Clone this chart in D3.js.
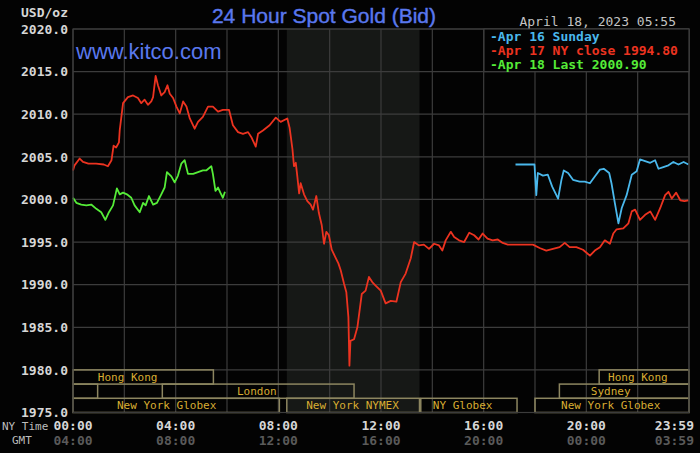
<!DOCTYPE html>
<html>
<head>
<meta charset="UTF-8">
<title>24 Hour Spot Gold (Bid)</title>
<script src="https://d3js.org/d3.v7.min.js"></script>
<style>
  html, body { margin: 0; padding: 0; background: #000; }
  svg { display: block; }
  .mono { font-family: "DejaVu Sans Mono", "Liberation Mono", monospace; }
</style>
</head>
<body>
<svg id="chart" width="700" height="453"></svg>
<script>
  // ---- data (hours in NY time, price in USD/oz) ----
  var sundayHours = [17.24, 17.98, 18.05, 18.11, 18.31, 18.5, 18.67, 18.9, 19.03, 19.12, 19.29, 19.48, 19.74, 19.94, 20.14, 20.33, 20.53, 20.68, 20.89, 20.98, 21.11, 21.25, 21.38, 21.57, 21.77, 21.96, 22.09, 22.29, 22.49, 22.68, 22.81, 23.0, 23.2, 23.39, 23.59, 23.79, 23.98];
  var sundayValues = [2004.1, 2004.1, 2000.5, 2003.1, 2002.8, 2002.9, 2001.5, 2000.1, 2002.3, 2003.4, 2003.1, 2002.3, 2002.1, 2002.1, 2001.9, 2002.7, 2003.5, 2003.6, 2003.1, 2001.9, 1999.6, 1997.2, 1999.0, 2000.5, 2002.9, 2003.3, 2004.7, 2004.5, 2004.3, 2004.6, 2003.6, 2003.8, 2004.0, 2004.4, 2004.1, 2004.4, 2004.1];

  var closeHours = [0, 0.06, 0.26, 0.39, 0.6, 0.9, 1.2, 1.36, 1.5, 1.58, 1.68, 1.79, 1.82, 1.95, 2.14, 2.34, 2.53, 2.66, 2.79, 2.92, 3.05, 3.12, 3.22, 3.31, 3.44, 3.57, 3.68, 3.77, 3.9, 4.03, 4.16, 4.29, 4.42, 4.55, 4.74, 4.87, 5.06, 5.26, 5.45, 5.65, 5.84, 6.08, 6.23, 6.43, 6.62, 6.82, 6.95, 7.12, 7.21, 7.4, 7.66, 7.9, 8.09, 8.35, 8.44, 8.55, 8.61, 8.68, 8.74, 8.81, 8.87, 9.0, 9.13, 9.26, 9.35, 9.48, 9.58, 9.69, 9.78, 9.87, 9.97, 10.08, 10.21, 10.34, 10.43, 10.56, 10.65, 10.73, 10.77, 10.81, 10.95, 11.08, 11.25, 11.4, 11.53, 11.66, 11.79, 11.99, 12.18, 12.38, 12.6, 12.77, 12.96, 13.16, 13.29, 13.48, 13.67, 13.87, 14.07, 14.26, 14.39, 14.52, 14.72, 14.85, 15.04, 15.24, 15.44, 15.63, 15.8, 15.96, 16.15, 16.35, 16.55, 16.74, 16.94, 17.92, 18.18, 18.44, 18.7, 18.96, 19.16, 19.35, 19.61, 19.87, 20.14, 20.33, 20.53, 20.72, 20.92, 21.05, 21.18, 21.44, 21.64, 21.77, 21.9, 22.09, 22.29, 22.49, 22.68, 22.88, 23.07, 23.2, 23.33, 23.5, 23.66, 23.82, 23.98];
  var closeValues = [2003.4, 2004.0, 2004.8, 2004.4, 2004.2, 2004.2, 2004.1, 2003.9, 2004.6, 2006.3, 2006.1, 2006.7, 2008.1, 2011.3, 2012.0, 2012.2, 2011.9, 2011.3, 2011.7, 2011.1, 2011.5, 2012.0, 2014.5, 2013.4, 2012.2, 2012.6, 2013.4, 2012.4, 2011.9, 2010.9, 2010.1, 2011.5, 2010.9, 2009.5, 2008.3, 2009.1, 2009.7, 2010.9, 2010.9, 2010.3, 2010.5, 2010.5, 2008.7, 2007.9, 2007.7, 2007.9, 2007.3, 2006.2, 2007.7, 2008.1, 2008.7, 2009.6, 2009.1, 2009.5, 2008.4, 2005.9, 2003.9, 2004.3, 2002.7, 2000.7, 2001.9, 2000.6, 1999.8, 1999.4, 1998.8, 2000.4, 1998.4, 1997.0, 1994.8, 1996.2, 1995.8, 1994.1, 1993.3, 1992.5, 1991.7, 1990.1, 1989.1, 1986.2, 1980.5, 1983.4, 1983.6, 1985.0, 1988.9, 1989.3, 1990.9, 1990.3, 1989.9, 1989.3, 1987.8, 1988.1, 1988.0, 1990.3, 1991.3, 1993.1, 1995.0, 1994.6, 1994.7, 1994.2, 1994.8, 1994.6, 1994.0, 1995.2, 1996.2, 1995.6, 1995.2, 1995.0, 1996.1, 1995.8, 1995.3, 1996.0, 1995.4, 1995.2, 1995.3, 1994.9, 1994.7, 1994.7, 1994.3, 1994.0, 1994.2, 1994.4, 1994.9, 1994.4, 1994.4, 1994.1, 1993.4, 1994.0, 1994.4, 1995.2, 1994.8, 1996.0, 1996.5, 1996.6, 1997.2, 1998.6, 1998.8, 1997.6, 1998.2, 1998.6, 1997.6, 1999.0, 2000.5, 2000.9, 2000.1, 2000.8, 1999.9, 1999.8, 1999.9];

  var lastHours = [0, 0.13, 0.32, 0.52, 0.71, 0.91, 1.1, 1.26, 1.4, 1.56, 1.71, 1.82, 1.95, 2.1, 2.27, 2.4, 2.6, 2.73, 2.83, 2.96, 3.12, 3.27, 3.44, 3.57, 3.66, 3.83, 3.96, 4.09, 4.22, 4.35, 4.48, 4.68, 4.87, 5.06, 5.19, 5.39, 5.45, 5.55, 5.65, 5.74, 5.84, 5.92];
  var lastValues = [2000.2, 1999.6, 1999.4, 1999.3, 1999.4, 1998.9, 1998.5, 1997.6, 1998.5, 1999.3, 2001.3, 2000.6, 2000.8, 2000.6, 2000.2, 1999.3, 1998.5, 1999.6, 1999.3, 2000.4, 1999.4, 1999.6, 2000.6, 2001.4, 2003.2, 2002.7, 2002.0, 2002.8, 2004.2, 2004.6, 2003.0, 2003.0, 2003.2, 2003.4, 2003.4, 2003.9, 2003.0, 2001.0, 2001.4, 2000.8, 2000.2, 2000.9];

  var seriesNames = ["Apr 16 Sunday", "Apr 17 NY close 1994.80", "Apr 18 Last 2000.90"];
  var seriesColors = ["#4ab8ec", "#ec3320", "#55ec38"];

  var priceTicks = [1975, 1980, 1985, 1990, 1995, 2000, 2005, 2010, 2015, 2020];
  var gridHours = [0, 2, 4, 6, 8, 10, 12, 14, 16, 18, 20, 22, 24];
  var nyTimeLabels = ["00:00", "04:00", "08:00", "12:00", "16:00", "20:00"];
  var nyTimeHours = [0, 4, 8, 12, 16, 20];
  var gmtLabels = ["04:00", "08:00", "12:00", "16:00", "20:00", "00:00"];

  // trading sessions: row, start hour, end hour, label, label centre hour
  var sessionNames = ["Hong Kong", "Hong Kong", "", "London", "Sydney", "New York Globex", "New York NYMEX", "NY Globex", "New York Globex"];
  var sessionRows = [0, 0, 1, 1, 1, 2, 2, 2, 2];
  var sessionStart = [0, 20.5, 0, 3.48, 18.95, 0, 8.33, 13.55, 18.0];
  var sessionEnd = [5.47, 24, 0.96, 10.95, 24, 8.04, 13.5, 17.3, 24];
  var sessionLabelAt = [2.13, 22.01, 0.5, 7.16, 20.95, 3.65, 10.89, 15.18, 20.95];

  var shadeStart = 8.33, shadeEnd = 13.5;

  // ---- layout ----
  var svg = d3.select("#chart");
  var plotLeft = 73, plotRight = 689, plotTop = 29, plotBottom = 412.5;

  var x = d3.scaleLinear().domain([0, 24]).range([plotLeft, plotRight]);
  var y = d3.scaleLinear().domain([1975, 2020]).range([plotBottom, plotTop]);

  svg.append("rect").attr("width", 700).attr("height", 453).attr("fill", "#030303");

  // NYMEX shading
  svg.append("rect")
    .attr("x", x(shadeStart)).attr("y", plotTop)
    .attr("width", x(shadeEnd) - x(shadeStart)).attr("height", plotBottom - plotTop)
    .attr("fill", "#161816");

  // grid
  svg.append("g").selectAll("line").data(priceTicks).enter().append("line")
    .attr("x1", plotLeft).attr("x2", plotRight)
    .attr("y1", d => y(d)).attr("y2", d => y(d))
    .attr("stroke", "#3c3c3c").attr("stroke-width", 1.2);

  svg.append("g").selectAll("line").data(gridHours).enter().append("line")
    .attr("x1", d => x(d)).attr("x2", d => x(d))
    .attr("y1", plotTop).attr("y2", plotBottom)
    .attr("stroke", "#3c3c3c").attr("stroke-width", 1.2);

  // session boxes
  var rowH = (y(1975) - y(1980)) / 3;
  var sess = svg.append("g");
  sessionNames.forEach((name, i) => {
    var y0 = y(1980) + sessionRows[i] * rowH;
    sess.append("rect")
      .attr("x", x(sessionStart[i])).attr("y", y0)
      .attr("width", x(sessionEnd[i]) - x(sessionStart[i])).attr("height", rowH)
      .attr("fill", "none").attr("stroke", "#8d8660").attr("stroke-width", 1.5);
    if (name) {
      sess.append("text")
        .attr("class", "mono")
        .attr("x", x(sessionLabelAt[i])).attr("y", y0 + rowH - 3.5)
        .attr("text-anchor", "middle")
        .attr("font-size", "11px")
        .attr("fill", "#d8ad32")
        .text(name);
    }
  });

  // price lines
  var line = d3.line().x(d => x(d[0])).y(d => y(d[1]));
  var seriesData = [
    d3.zip(sundayHours, sundayValues),
    d3.zip(closeHours, closeValues),
    d3.zip(lastHours, lastValues)
  ];
  seriesData.forEach((pts, i) => {
    svg.append("path")
      .datum(pts)
      .attr("d", line)
      .attr("fill", "none")
      .attr("stroke", seriesColors[i])
      .attr("stroke-width", 1.8)
      .attr("stroke-linejoin", "round");
  });

  // frame
  svg.append("rect")
    .attr("x", plotLeft).attr("y", plotTop)
    .attr("width", plotRight - plotLeft).attr("height", plotBottom - plotTop)
    .attr("fill", "none").attr("stroke", "#3c3c3c").attr("stroke-width", 1.2);

  // y axis labels
  var yAxis = d3.axisLeft(y).tickValues(priceTicks).tickFormat(d3.format(".1f")).tickSize(0).tickPadding(5);
  var ya = svg.append("g").attr("transform", "translate(" + plotLeft + ",0)").call(yAxis);
  ya.select(".domain").remove();
  ya.selectAll("text")
    .attr("class", "mono")
    .attr("font-size", "13px")
    .attr("font-weight", "bold")
    .attr("fill", "#d6d6d6");

  svg.append("text").attr("class", "mono")
    .attr("x", 68).attr("y", 17).attr("text-anchor", "end")
    .attr("font-size", "13px").attr("font-weight", "bold").attr("fill", "#d6d6d6")
    .text("USD/oz");

  // x axis labels (NY time and GMT)
  var xl = svg.append("g");
  nyTimeLabels.forEach((t, i) => {
    xl.append("text").attr("class", "mono")
      .attr("x", x(nyTimeHours[i])).attr("y", 430).attr("text-anchor", "middle")
      .attr("font-size", "13px").attr("font-weight", "bold").attr("fill", "#d6d6d6")
      .text(t);
    xl.append("text").attr("class", "mono")
      .attr("x", x(nyTimeHours[i])).attr("y", 445).attr("text-anchor", "middle")
      .attr("font-size", "13px").attr("font-weight", "bold").attr("fill", "#5a5a5a")
      .text(gmtLabels[i]);
  });
  xl.append("text").attr("class", "mono")
    .attr("x", 694).attr("y", 430).attr("text-anchor", "end")
    .attr("font-size", "13px").attr("font-weight", "bold").attr("fill", "#d6d6d6")
    .text("23:59");
  xl.append("text").attr("class", "mono")
    .attr("x", 694).attr("y", 445).attr("text-anchor", "end")
    .attr("font-size", "13px").attr("font-weight", "bold").attr("fill", "#5a5a5a")
    .text("03:59");
  xl.append("text").attr("class", "mono")
    .attr("x", 2).attr("y", 430)
    .attr("font-size", "11px").attr("fill", "#bdbdbd")
    .text("NY Time");
  xl.append("text").attr("class", "mono")
    .attr("x", 12).attr("y", 444)
    .attr("font-size", "11px").attr("fill", "#bdbdbd")
    .text("GMT");

  // titles
  svg.append("text")
    .attr("x", 324).attr("y", 23).attr("text-anchor", "middle")
    .attr("font-family", "'Liberation Sans', Arial, sans-serif")
    .attr("font-size", "21px").attr("fill", "#5a78ee")
    .attr("stroke", "#5a78ee").attr("stroke-width", 0.4)
    .text("24 Hour Spot Gold (Bid)");

  svg.append("text")
    .attr("x", 76).attr("y", 59)
    .attr("font-family", "'Liberation Sans', Arial, sans-serif")
    .attr("font-size", "22px").attr("fill", "#5a78ee")
    .text("www.kitco.com");

  svg.append("text").attr("class", "mono")
    .attr("x", 676).attr("y", 26).attr("text-anchor", "end")
    .attr("font-size", "13px").attr("fill", "#c4c4c4")
    .text("April 18, 2023 05:55");

  // legend
  var lg = svg.append("g");
  lg.append("rect")
    .attr("x", 484).attr("y", plotTop)
    .attr("width", plotRight - 484).attr("height", y(2015) - plotTop)
    .attr("fill", "#030303").attr("stroke", "#3c3c3c").attr("stroke-width", 1.2);
  seriesNames.forEach((name, i) => {
    lg.append("text").attr("class", "mono")
      .attr("x", 490).attr("y", 41 + i * 13.8)
      .attr("font-size", "13px").attr("font-weight", "bold")
      .attr("fill", seriesColors[i])
      .text("-" + name);
  });
</script>
</body>
</html>
